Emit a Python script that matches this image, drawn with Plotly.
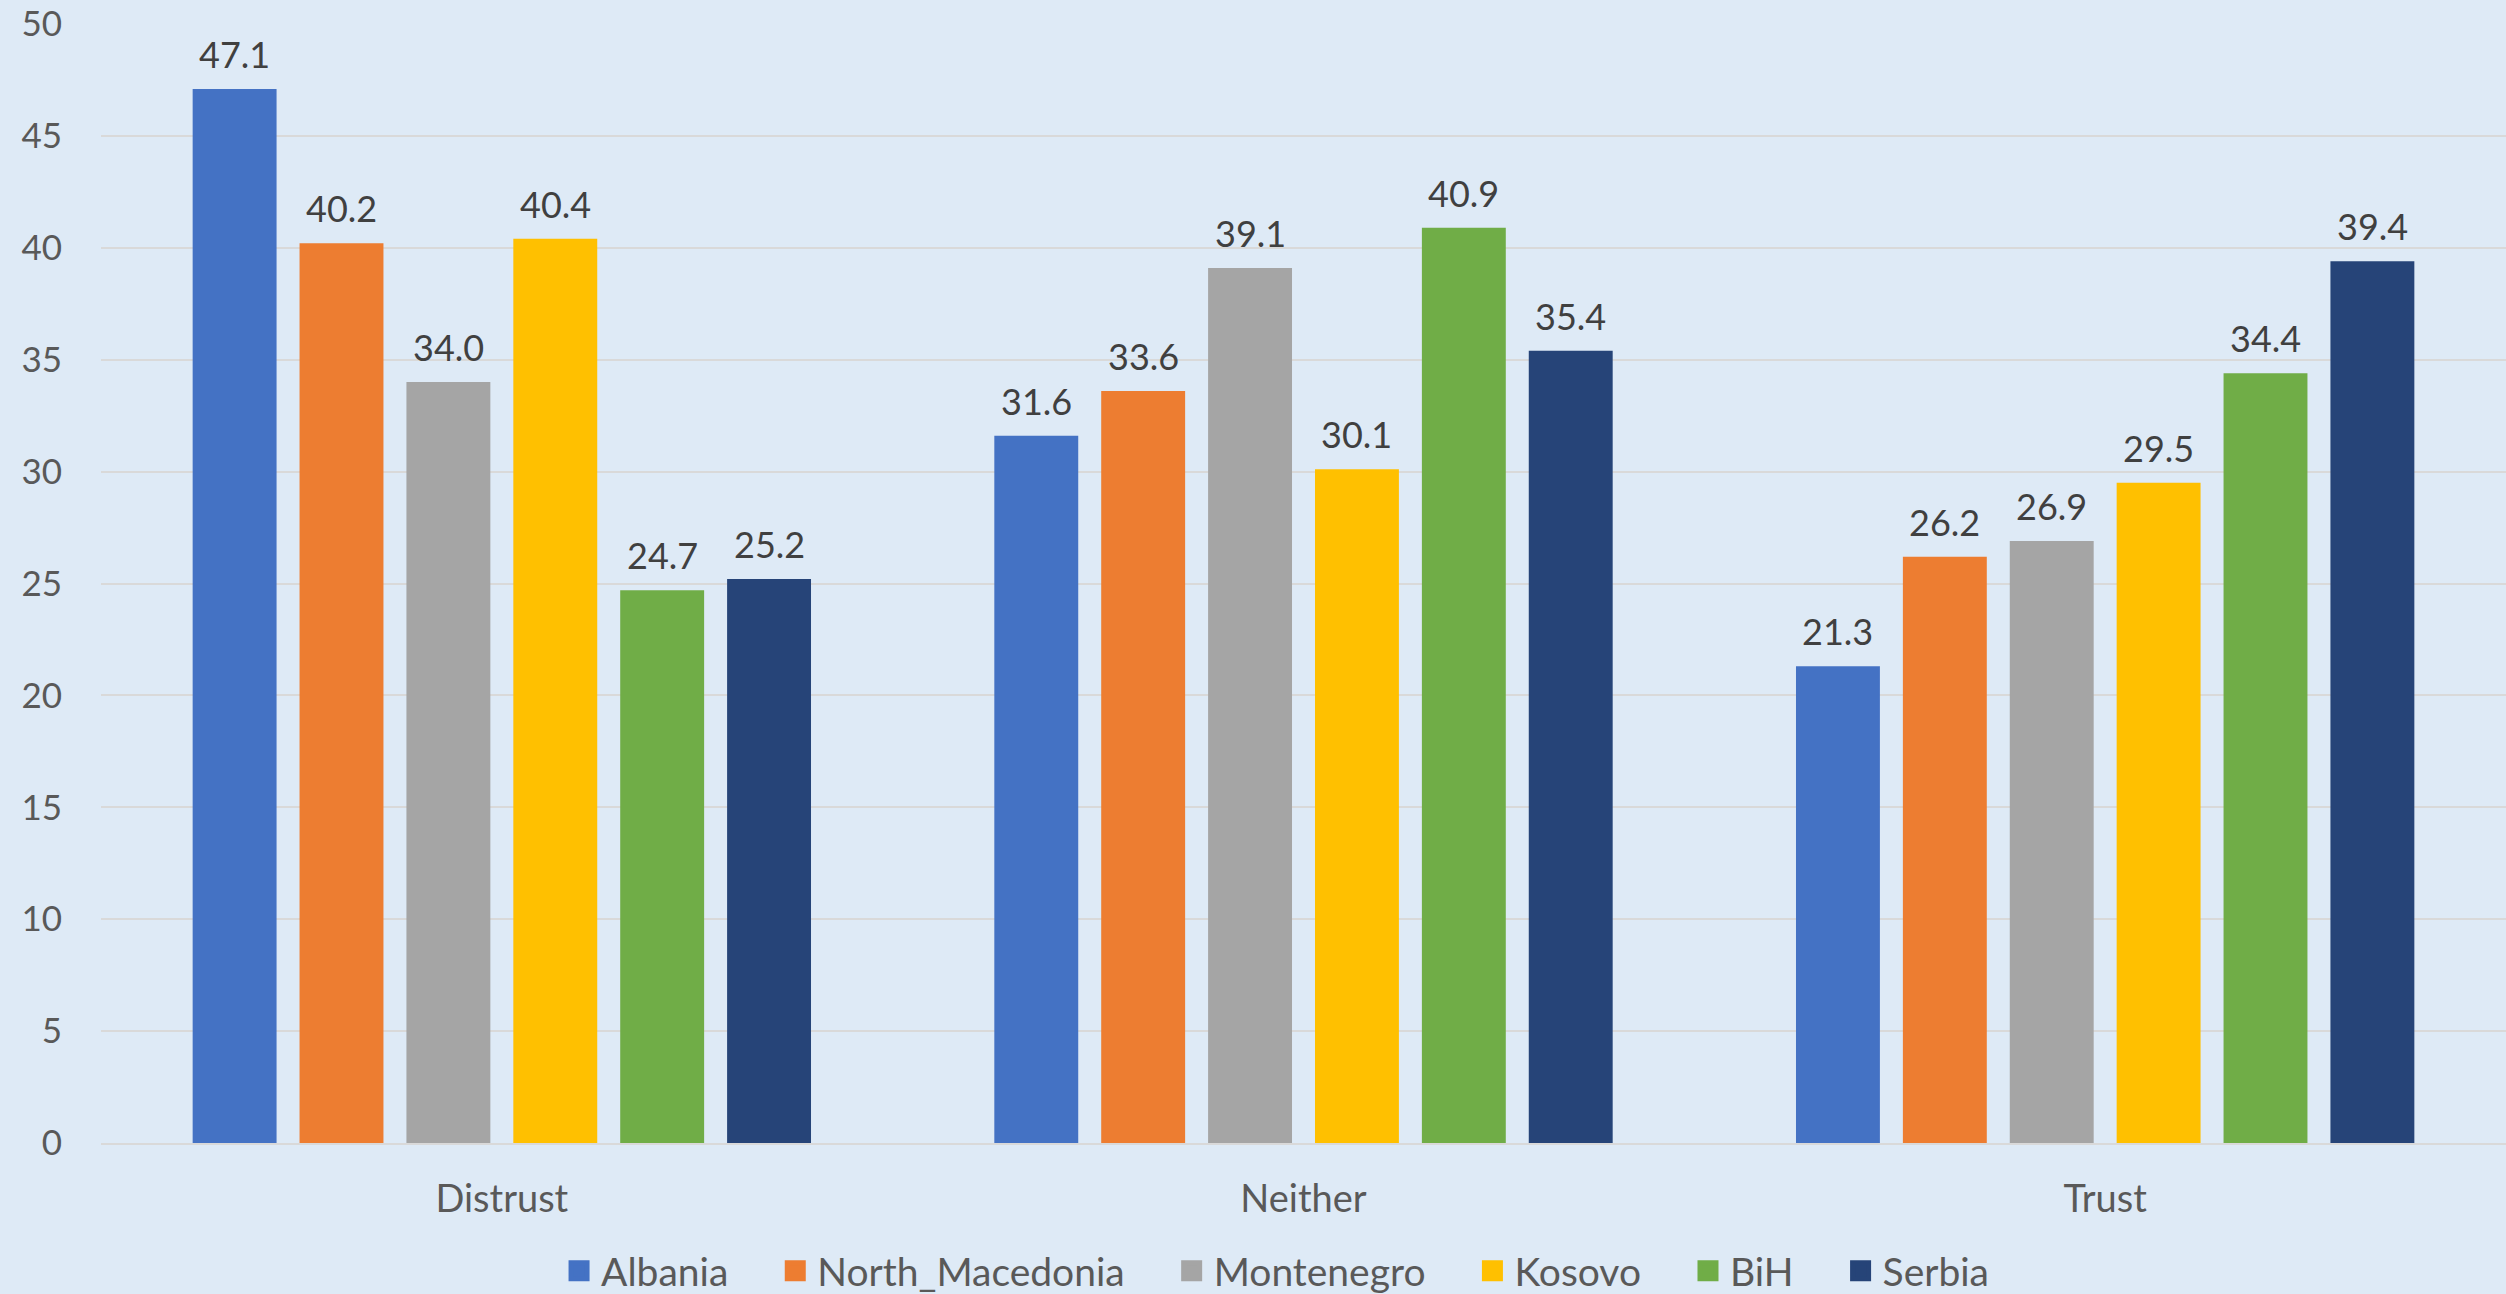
import plotly.graph_objects as go

categories = ["Distrust", "Neither", "Trust"]
countries = ["Albania", "North_Macedonia", "Montenegro", "Kosovo", "BiH", "Serbia"]

albania = [47.1, 31.6, 21.3]
north_macedonia = [40.2, 33.6, 26.2]
montenegro = [34.0, 39.1, 26.9]
kosovo = [40.4, 30.1, 29.5]
bih = [24.7, 40.9, 34.4]
serbia = [25.2, 35.4, 39.4]

series = [albania, north_macedonia, montenegro, kosovo, bih, serbia]
colors = ["#4472C4", "#ED7D31", "#A5A5A5", "#FFC000", "#70AD47", "#264478"]

y_ticks = list(range(0, 51, 5))

FONT = "Lato"
BG = "#DEEAF6"
BARGAP = 0.2
GROUPGAP = 0.215
LEGEND_PAD = "\u00a0" * 4

fig = go.Figure()
n = len(series)
slot = (1 - BARGAP) / n
annotations = []
for k, (name, vals, col) in enumerate(zip(countries, series, colors)):
    fig.add_trace(go.Bar(
        name=name,
        x=categories,
        y=vals,
        marker=dict(color=col, line=dict(width=0)),
        showlegend=False,
        legendgroup=name,
    ))
    # legend entry with a larger square swatch than the default bar symbol
    fig.add_trace(go.Scatter(
        name=name + (LEGEND_PAD if k < n - 1 else ""),
        x=[None],
        y=[None],
        mode="markers",
        marker=dict(symbol="square", size=16, color=col,
                    line=dict(color=col, width=5)),
        legendgroup=name,
        hoverinfo="skip",
    ))
    # value labels above each bar, centred on the bar's slot within the group
    for c, v in enumerate(vals):
        annotations.append(dict(
            x=c - (1 - BARGAP) / 2 + slot * (k + 0.5),
            y=v,
            xref="x",
            yref="y",
            text=f"{v:.1f}",
            showarrow=False,
            yanchor="bottom",
            yshift=11,
            font=dict(family=FONT, size=36, color="#404040"),
        ))

fig.update_layout(
    width=2506,
    height=1294,
    paper_bgcolor=BG,
    plot_bgcolor=BG,
    barmode="group",
    bargap=BARGAP,
    bargroupgap=GROUPGAP,
    margin=dict(l=101, r=0, t=24, b=151),
    font=dict(family=FONT, color="#595959"),
    annotations=annotations,
    legend=dict(
        orientation="h",
        xref="container",
        yref="container",
        x=0.509,
        xanchor="center",
        y=1 - 1271 / 1294,
        yanchor="middle",
        itemwidth=34,
        font=dict(family=FONT, size=39, color="#595959"),
        bgcolor="rgba(0,0,0,0)",
    ),
    xaxis=dict(
        tickfont=dict(family=FONT, size=38, color="#595959"),
        showgrid=False,
        showline=True,
        linecolor="#D9D9D9",
        linewidth=2,
        ticks="",
        ticklabelstandoff=21,
    ),
    yaxis=dict(
        range=[0, 50],
        tickvals=y_ticks,
        tickfont=dict(family=FONT, size=35, color="#595959"),
        showgrid=True,
        gridcolor="#D9D9D9",
        gridwidth=2,
        zeroline=False,
        showline=False,
        ticks="",
        ticklabelstandoff=38,
    ),
)

fig.write_html("out.html")
